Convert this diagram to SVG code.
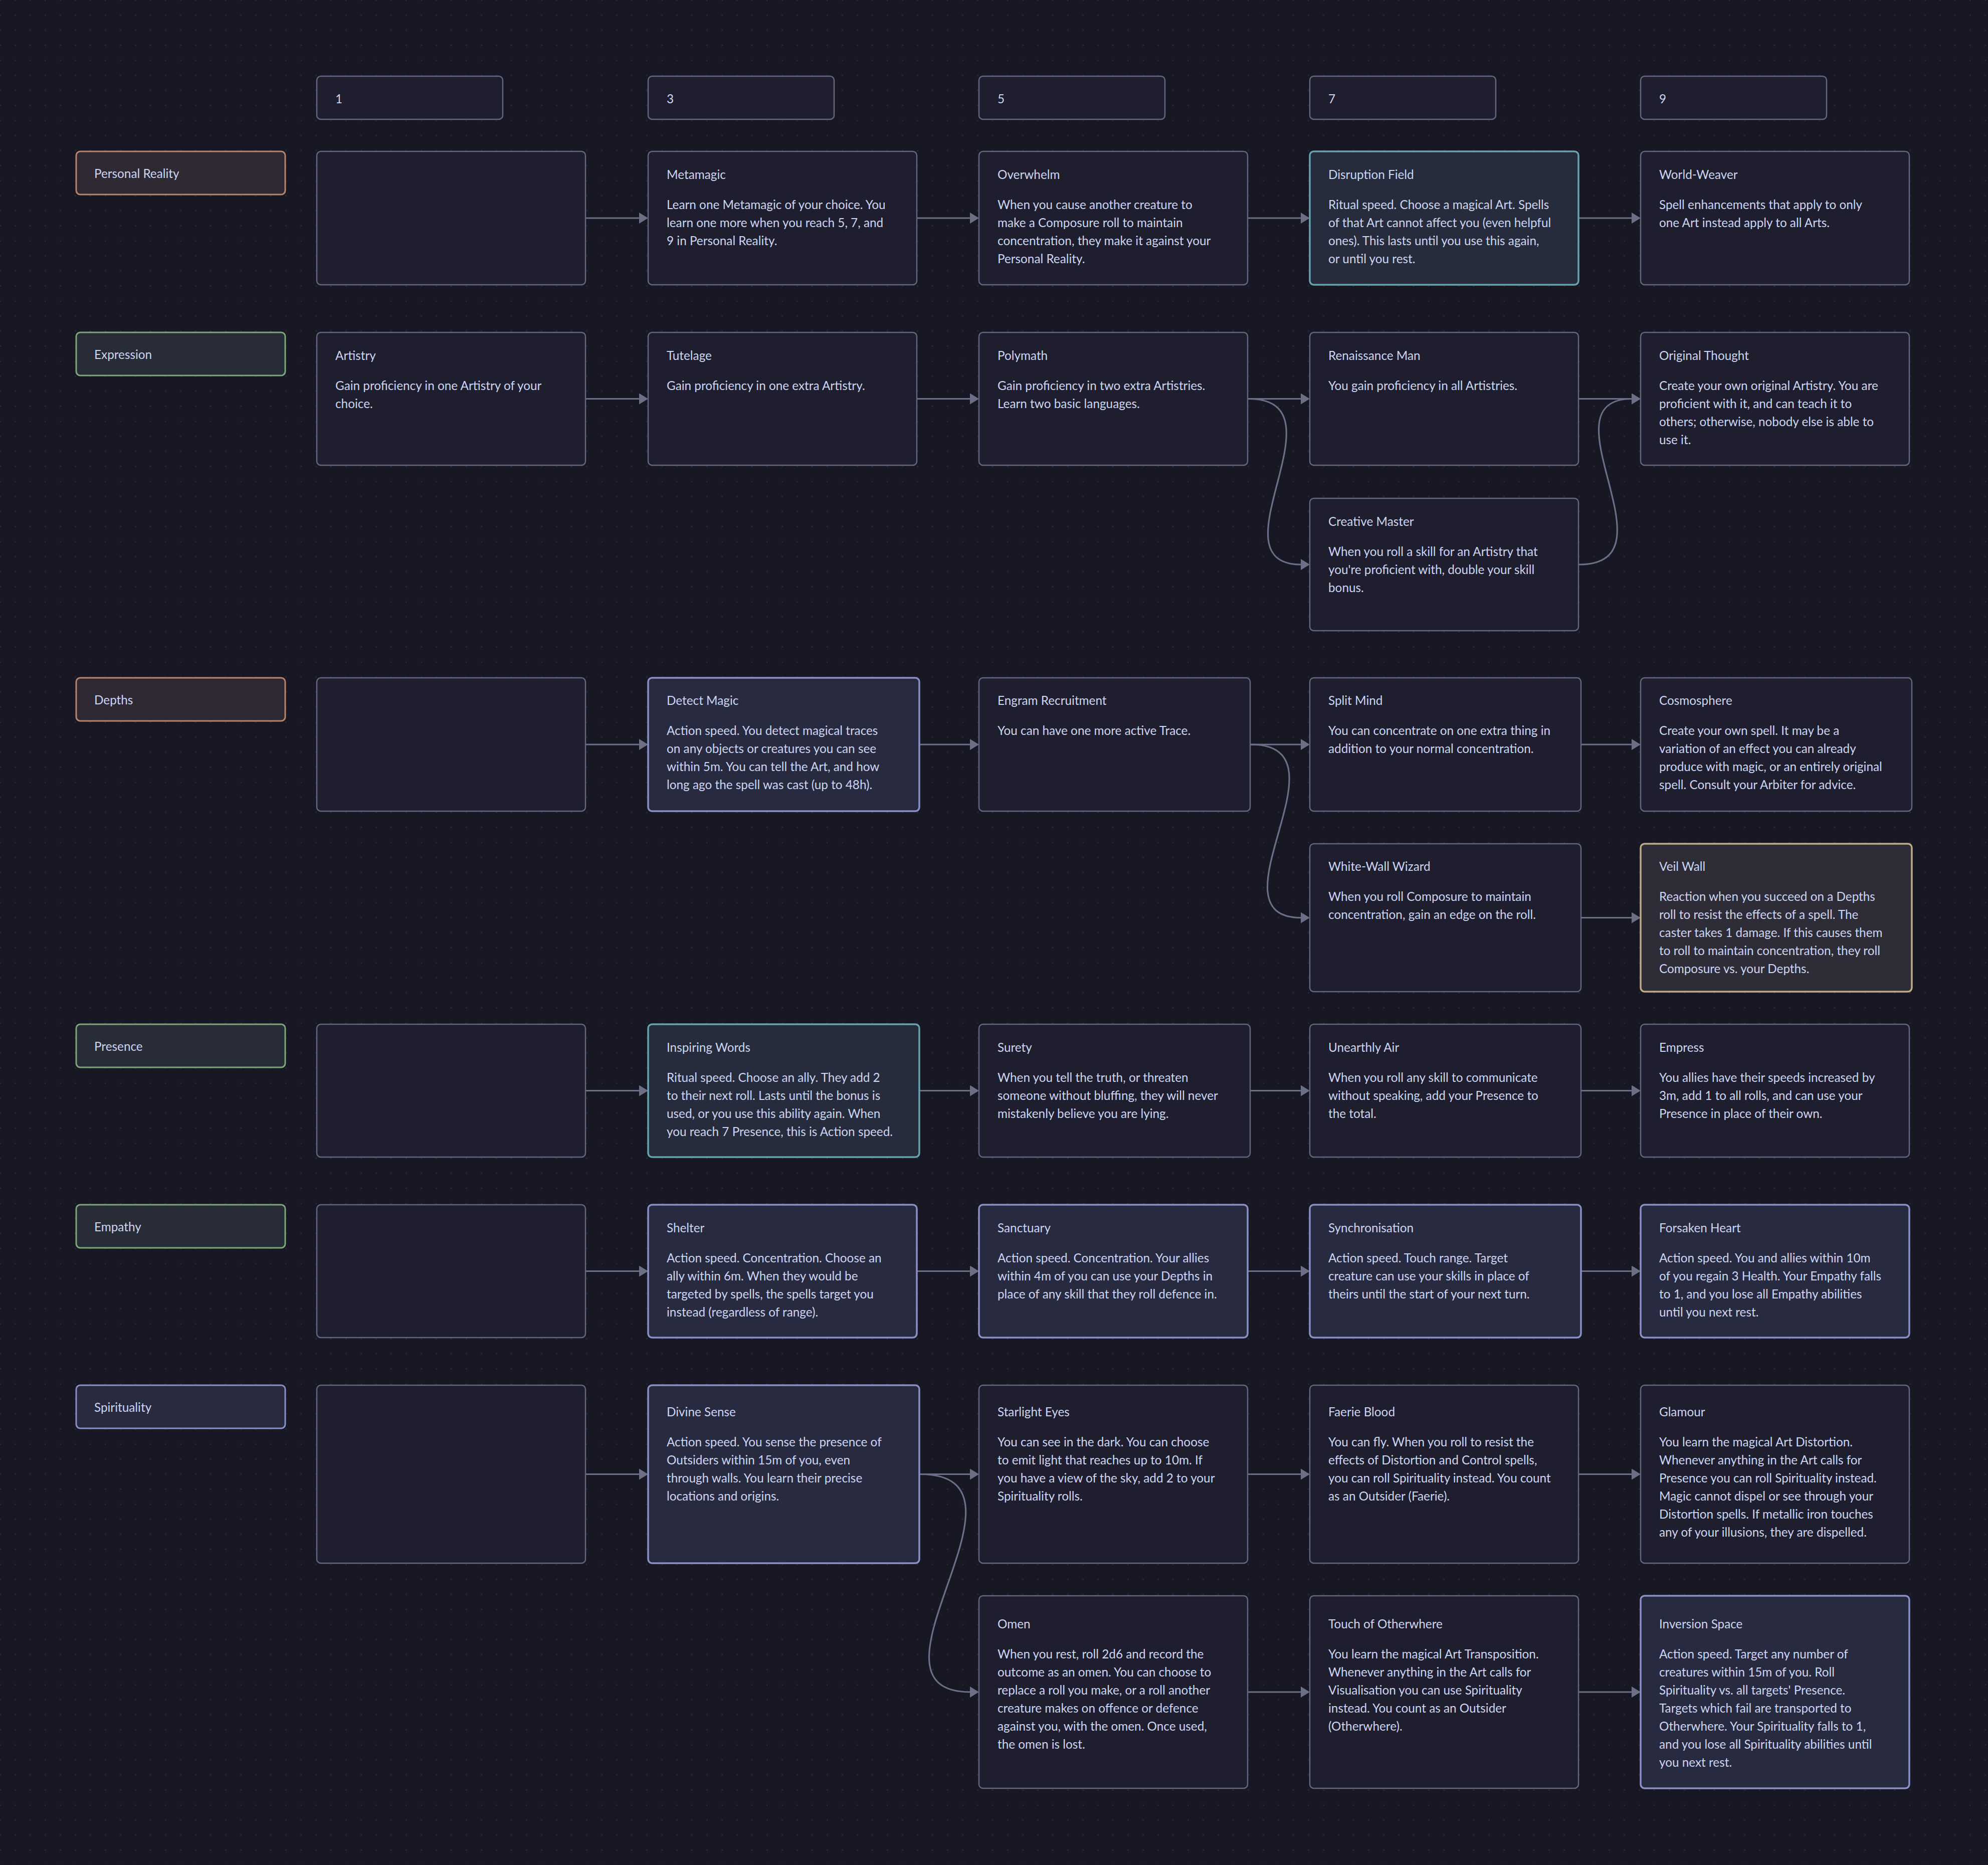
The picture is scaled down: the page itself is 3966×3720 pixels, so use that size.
<svg xmlns="http://www.w3.org/2000/svg" width="3966" height="3720" viewBox="0 0 3966 3720">
<defs>
<pattern id="dots" x="-14.5" y="-14.5" width="30" height="30" patternUnits="userSpaceOnUse"><circle cx="15" cy="15" r="1.3" fill="#303246"/></pattern>
<marker id="arr" markerUnits="userSpaceOnUse" markerWidth="19" markerHeight="23" refX="1" refY="11" orient="auto"><path d="M0,0 L18,11 L0,22 z" fill="#6c7086"/></marker>
<style>
text{font-family:Lato,"Liberation Sans",sans-serif;font-size:24.3px;fill:#cdd6f4}
.n rect{fill:#1e1e2e;stroke:#63667e;stroke-width:2.5}
.n.lav rect{fill:#282a40;stroke:#8a90c6;stroke-width:3.5}
.n.teal rect{fill:#262c3b;stroke:#67a3ad;stroke-width:3.5}
.n.tan rect{fill:#2d2c37;stroke:#bfab88;stroke-width:3.5}
.l rect{stroke-width:3}
.l.peach rect{fill:#2f2934;stroke:#b8856b}
.l.green rect{fill:#272c36;stroke:#7da67c}
.l.lavl rect{fill:#282a40;stroke:#8a90c6}
.c path{stroke:#6c7086;stroke-width:3.2;fill:none;marker-end:url(#arr)}
</style>
</defs>
<rect width="3966" height="3720" fill="#181825"/>
<rect width="3966" height="3720" fill="url(#dots)"/>

<g id="headers">
<g id="h1" class="n"><rect x="632" y="152" width="371" height="86" rx="8"/><text x="669" y="206">1</text></g>
<g id="h3" class="n"><rect x="1293" y="152" width="371" height="86" rx="8"/><text x="1330" y="206">3</text></g>
<g id="h5" class="n"><rect x="1953" y="152" width="371" height="86" rx="8"/><text x="1990" y="206">5</text></g>
<g id="h7" class="n"><rect x="2613" y="152" width="371" height="86" rx="8"/><text x="2650" y="206">7</text></g>
<g id="h9" class="n"><rect x="3273" y="152" width="371" height="86" rx="8"/><text x="3310" y="206">9</text></g>
</g>

<g id="labels">
<g id="lbl-personal-reality" class="l peach"><rect x="152" y="302" width="417" height="86" rx="8"/><text x="188" y="355">Personal Reality</text></g>
<g id="lbl-expression" class="l green"><rect x="152" y="663" width="417" height="86" rx="8"/><text x="188" y="716">Expression</text></g>
<g id="lbl-depths" class="l peach"><rect x="152" y="1352" width="417" height="86" rx="8"/><text x="188" y="1405">Depths</text></g>
<g id="lbl-presence" class="l green"><rect x="152" y="2043" width="417" height="86" rx="8"/><text x="188" y="2096">Presence</text></g>
<g id="lbl-empathy" class="l green"><rect x="152" y="2403" width="417" height="86" rx="8"/><text x="188" y="2456">Empathy</text></g>
<g id="lbl-spirituality" class="l lavl"><rect x="152" y="2763" width="417" height="86" rx="8"/><text x="188" y="2816">Spirituality</text></g>
</g>

<g id="connectors" class="c">
<path d="M1169,435 H1276"/>
<path d="M1830,435 H1936"/>
<path d="M2490,435 H2596"/>
<path d="M3150,435 H3256"/>
<path d="M1169,795.5 H1276"/>
<path d="M1830,795.5 H1936"/>
<path d="M2490,795.5 H2596"/>
<path d="M3150,795.5 H3256"/>
<path d="M2490,795.5 C2690,795.5 2412,1126 2596,1126"/>
<path d="M3150,1126 C3350,1126 3072,795.5 3256,795.5"/>
<path d="M1169,1485 H1276"/>
<path d="M1835,1485 H1936"/>
<path d="M2495,1485 H2596"/>
<path d="M3155,1485 H3256"/>
<path d="M2495,1485 C2702,1485 2405,1830.5 2596,1830.5"/>
<path d="M3155,1830.5 H3256"/>
<path d="M1169,2175.5 H1276"/>
<path d="M1835,2175.5 H1936"/>
<path d="M2495,2175.5 H2596"/>
<path d="M3155,2175.5 H3256"/>
<path d="M1169,2535.5 H1276"/>
<path d="M1830,2535.5 H1936"/>
<path d="M2490,2535.5 H2596"/>
<path d="M3155,2535.5 H3256"/>
<path d="M1169,2940.5 H1276"/>
<path d="M1835,2940.5 H1936"/>
<path d="M2490,2940.5 H2596"/>
<path d="M3150,2940.5 H3256"/>
<path d="M1835,2940.5 C2096,2940.5 1691,3375 1936,3375"/>
<path d="M2490,3375 H2596"/>
<path d="M3150,3375 H3256"/>
</g>

<g id="row-personal-reality">
<g id="pr-1" class="n"><rect x="632" y="302" width="536" height="266" rx="8"/></g>
<g id="metamagic" class="n"><rect x="1293" y="302" width="536" height="266" rx="8"/>
<text x="1330" y="357">Metamagic</text>
<text x="1330" y="417">Learn one Metamagic of your choice. You</text>
<text x="1330" y="453">learn one more when you reach 5, 7, and</text>
<text x="1330" y="489">9 in Personal Reality.</text></g>
<g id="overwhelm" class="n"><rect x="1953" y="302" width="536" height="266" rx="8"/>
<text x="1990" y="357">Overwhelm</text>
<text x="1990" y="417">When you cause another creature to</text>
<text x="1990" y="453">make a Composure roll to maintain</text>
<text x="1990" y="489">concentration, they make it against your</text>
<text x="1990" y="525">Personal Reality.</text></g>
<g id="disruption-field" class="n teal"><rect x="2613" y="302" width="536" height="266" rx="8"/>
<text x="2650" y="357">Disruption Field</text>
<text x="2650" y="417">Ritual speed. Choose a magical Art. Spells</text>
<text x="2650" y="453">of that Art cannot affect you (even helpful</text>
<text x="2650" y="489">ones). This lasts until you use this again,</text>
<text x="2650" y="525">or until you rest.</text></g>
<g id="world-weaver" class="n"><rect x="3273" y="302" width="536" height="266" rx="8"/>
<text x="3310" y="357">World-Weaver</text>
<text x="3310" y="417">Spell enhancements that apply to only</text>
<text x="3310" y="453">one Art instead apply to all Arts.</text></g>
</g>

<g id="row-expression">
<g id="artistry" class="n"><rect x="632" y="663" width="536" height="265" rx="8"/>
<text x="669" y="718">Artistry</text>
<text x="669" y="778">Gain proficiency in one Artistry of your</text>
<text x="669" y="814">choice.</text></g>
<g id="tutelage" class="n"><rect x="1293" y="663" width="536" height="265" rx="8"/>
<text x="1330" y="718">Tutelage</text>
<text x="1330" y="778">Gain proficiency in one extra Artistry.</text></g>
<g id="polymath" class="n"><rect x="1953" y="663" width="536" height="265" rx="8"/>
<text x="1990" y="718">Polymath</text>
<text x="1990" y="778">Gain proficiency in two extra Artistries.</text>
<text x="1990" y="814">Learn two basic languages.</text></g>
<g id="renaissance-man" class="n"><rect x="2613" y="663" width="536" height="265" rx="8"/>
<text x="2650" y="718">Renaissance Man</text>
<text x="2650" y="778">You gain proficiency in all Artistries.</text></g>
<g id="original-thought" class="n"><rect x="3273" y="663" width="536" height="265" rx="8"/>
<text x="3310" y="718">Original Thought</text>
<text x="3310" y="778">Create your own original Artistry. You are</text>
<text x="3310" y="814">proficient with it, and can teach it to</text>
<text x="3310" y="850">others; otherwise, nobody else is able to</text>
<text x="3310" y="886">use it.</text></g>
<g id="creative-master" class="n"><rect x="2613" y="994" width="536" height="264" rx="8"/>
<text x="2650" y="1049">Creative Master</text>
<text x="2650" y="1109">When you roll a skill for an Artistry that</text>
<text x="2650" y="1145">you're proficient with, double your skill</text>
<text x="2650" y="1181">bonus.</text></g>
</g>

<g id="row-depths">
<g id="dep-1" class="n"><rect x="632" y="1352" width="536" height="266" rx="8"/></g>
<g id="detect-magic" class="n lav"><rect x="1293" y="1352" width="541" height="266" rx="8"/>
<text x="1330" y="1406">Detect Magic</text>
<text x="1330" y="1466">Action speed. You detect magical traces</text>
<text x="1330" y="1502">on any objects or creatures you can see</text>
<text x="1330" y="1538">within 5m. You can tell the Art, and how</text>
<text x="1330" y="1574">long ago the spell was cast (up to 48h).</text></g>
<g id="engram-recruitment" class="n"><rect x="1953" y="1352" width="541" height="266" rx="8"/>
<text x="1990" y="1406">Engram Recruitment</text>
<text x="1990" y="1466">You can have one more active Trace.</text></g>
<g id="split-mind" class="n"><rect x="2613" y="1352" width="541" height="266" rx="8"/>
<text x="2650" y="1406">Split Mind</text>
<text x="2650" y="1466">You can concentrate on one extra thing in</text>
<text x="2650" y="1502">addition to your normal concentration.</text></g>
<g id="cosmosphere" class="n"><rect x="3273" y="1352" width="541" height="266" rx="8"/>
<text x="3310" y="1406">Cosmosphere</text>
<text x="3310" y="1466">Create your own spell. It may be a</text>
<text x="3310" y="1502">variation of an effect you can already</text>
<text x="3310" y="1538">produce with magic, or an entirely original</text>
<text x="3310" y="1574">spell. Consult your Arbiter for advice.</text></g>
<g id="white-wall-wizard" class="n"><rect x="2613" y="1683" width="541" height="295" rx="8"/>
<text x="2650" y="1737">White-Wall Wizard</text>
<text x="2650" y="1797">When you roll Composure to maintain</text>
<text x="2650" y="1833">concentration, gain an edge on the roll.</text></g>
<g id="veil-wall" class="n tan"><rect x="3273" y="1683" width="541" height="295" rx="8"/>
<text x="3310" y="1737">Veil Wall</text>
<text x="3310" y="1797">Reaction when you succeed on a Depths</text>
<text x="3310" y="1833">roll to resist the effects of a spell. The</text>
<text x="3310" y="1869">caster takes 1 damage. If this causes them</text>
<text x="3310" y="1905">to roll to maintain concentration, they roll</text>
<text x="3310" y="1941">Composure vs. your Depths.</text></g>
</g>

<g id="row-presence">
<g id="pres-1" class="n"><rect x="632" y="2043" width="536" height="265" rx="8"/></g>
<g id="inspiring-words" class="n teal"><rect x="1293" y="2043" width="541" height="265" rx="8"/>
<text x="1330" y="2098">Inspiring Words</text>
<text x="1330" y="2158">Ritual speed. Choose an ally. They add 2</text>
<text x="1330" y="2194">to their next roll. Lasts until the bonus is</text>
<text x="1330" y="2230">used, or you use this ability again. When</text>
<text x="1330" y="2266">you reach 7 Presence, this is Action speed.</text></g>
<g id="surety" class="n"><rect x="1953" y="2043" width="541" height="265" rx="8"/>
<text x="1990" y="2098">Surety</text>
<text x="1990" y="2158">When you tell the truth, or threaten</text>
<text x="1990" y="2194">someone without bluffing, they will never</text>
<text x="1990" y="2230">mistakenly believe you are lying.</text></g>
<g id="unearthly-air" class="n"><rect x="2613" y="2043" width="541" height="265" rx="8"/>
<text x="2650" y="2098">Unearthly Air</text>
<text x="2650" y="2158">When you roll any skill to communicate</text>
<text x="2650" y="2194">without speaking, add your Presence to</text>
<text x="2650" y="2230">the total.</text></g>
<g id="empress" class="n"><rect x="3273" y="2043" width="536" height="265" rx="8"/>
<text x="3310" y="2098">Empress</text>
<text x="3310" y="2158">You allies have their speeds increased by</text>
<text x="3310" y="2194">3m, add 1 to all rolls, and can use your</text>
<text x="3310" y="2230">Presence in place of their own.</text></g>
</g>

<g id="row-empathy">
<g id="emp-1" class="n"><rect x="632" y="2403" width="536" height="265" rx="8"/></g>
<g id="shelter" class="n lav"><rect x="1293" y="2403" width="536" height="265" rx="8"/>
<text x="1330" y="2458">Shelter</text>
<text x="1330" y="2518">Action speed. Concentration. Choose an</text>
<text x="1330" y="2554">ally within 6m. When they would be</text>
<text x="1330" y="2590">targeted by spells, the spells target you</text>
<text x="1330" y="2626">instead (regardless of range).</text></g>
<g id="sanctuary" class="n lav"><rect x="1953" y="2403" width="536" height="265" rx="8"/>
<text x="1990" y="2458">Sanctuary</text>
<text x="1990" y="2518">Action speed. Concentration. Your allies</text>
<text x="1990" y="2554">within 4m of you can use your Depths in</text>
<text x="1990" y="2590">place of any skill that they roll defence in.</text></g>
<g id="synchronisation" class="n lav"><rect x="2613" y="2403" width="541" height="265" rx="8"/>
<text x="2650" y="2458">Synchronisation</text>
<text x="2650" y="2518">Action speed. Touch range. Target</text>
<text x="2650" y="2554">creature can use your skills in place of</text>
<text x="2650" y="2590">theirs until the start of your next turn.</text></g>
<g id="forsaken-heart" class="n lav"><rect x="3273" y="2403" width="536" height="265" rx="8"/>
<text x="3310" y="2458">Forsaken Heart</text>
<text x="3310" y="2518">Action speed. You and allies within 10m</text>
<text x="3310" y="2554">of you regain 3 Health. Your Empathy falls</text>
<text x="3310" y="2590">to 1, and you lose all Empathy abilities</text>
<text x="3310" y="2626">until you next rest.</text></g>
</g>

<g id="row-spirituality">
<g id="spi-1" class="n"><rect x="632" y="2763" width="536" height="355" rx="8"/></g>
<g id="divine-sense" class="n lav"><rect x="1293" y="2763" width="541" height="355" rx="8"/>
<text x="1330" y="2825">Divine Sense</text>
<text x="1330" y="2885">Action speed. You sense the presence of</text>
<text x="1330" y="2921">Outsiders within 15m of you, even</text>
<text x="1330" y="2957">through walls. You learn their precise</text>
<text x="1330" y="2993">locations and origins.</text></g>
<g id="starlight-eyes" class="n"><rect x="1953" y="2763" width="536" height="355" rx="8"/>
<text x="1990" y="2825">Starlight Eyes</text>
<text x="1990" y="2885">You can see in the dark. You can choose</text>
<text x="1990" y="2921">to emit light that reaches up to 10m. If</text>
<text x="1990" y="2957">you have a view of the sky, add 2 to your</text>
<text x="1990" y="2993">Spirituality rolls.</text></g>
<g id="faerie-blood" class="n"><rect x="2613" y="2763" width="536" height="355" rx="8"/>
<text x="2650" y="2825">Faerie Blood</text>
<text x="2650" y="2885">You can fly. When you roll to resist the</text>
<text x="2650" y="2921">effects of Distortion and Control spells,</text>
<text x="2650" y="2957">you can roll Spirituality instead. You count</text>
<text x="2650" y="2993">as an Outsider (Faerie).</text></g>
<g id="glamour" class="n"><rect x="3273" y="2763" width="536" height="355" rx="8"/>
<text x="3310" y="2825">Glamour</text>
<text x="3310" y="2885">You learn the magical Art Distortion.</text>
<text x="3310" y="2921">Whenever anything in the Art calls for</text>
<text x="3310" y="2957">Presence you can roll Spirituality instead.</text>
<text x="3310" y="2993">Magic cannot dispel or see through your</text>
<text x="3310" y="3029">Distortion spells. If metallic iron touches</text>
<text x="3310" y="3065">any of your illusions, they are dispelled.</text></g>
<g id="omen" class="n"><rect x="1953" y="3183" width="536" height="384" rx="8"/>
<text x="1990" y="3248">Omen</text>
<text x="1990" y="3308">When you rest, roll 2d6 and record the</text>
<text x="1990" y="3344">outcome as an omen. You can choose to</text>
<text x="1990" y="3380">replace a roll you make, or a roll another</text>
<text x="1990" y="3416">creature makes on offence or defence</text>
<text x="1990" y="3452">against you, with the omen. Once used,</text>
<text x="1990" y="3488">the omen is lost.</text></g>
<g id="touch-of-otherwhere" class="n"><rect x="2613" y="3183" width="536" height="384" rx="8"/>
<text x="2650" y="3248">Touch of Otherwhere</text>
<text x="2650" y="3308">You learn the magical Art Transposition.</text>
<text x="2650" y="3344">Whenever anything in the Art calls for</text>
<text x="2650" y="3380">Visualisation you can use Spirituality</text>
<text x="2650" y="3416">instead. You count as an Outsider</text>
<text x="2650" y="3452">(Otherwhere).</text></g>
<g id="inversion-space" class="n lav"><rect x="3273" y="3183" width="536" height="384" rx="8"/>
<text x="3310" y="3248">Inversion Space</text>
<text x="3310" y="3308">Action speed. Target any number of</text>
<text x="3310" y="3344">creatures within 15m of you. Roll</text>
<text x="3310" y="3380">Spirituality vs. all targets' Presence.</text>
<text x="3310" y="3416">Targets which fail are transported to</text>
<text x="3310" y="3452">Otherwhere. Your Spirituality falls to 1,</text>
<text x="3310" y="3488">and you lose all Spirituality abilities until</text>
<text x="3310" y="3524">you next rest.</text></g>
</g>
</svg>
